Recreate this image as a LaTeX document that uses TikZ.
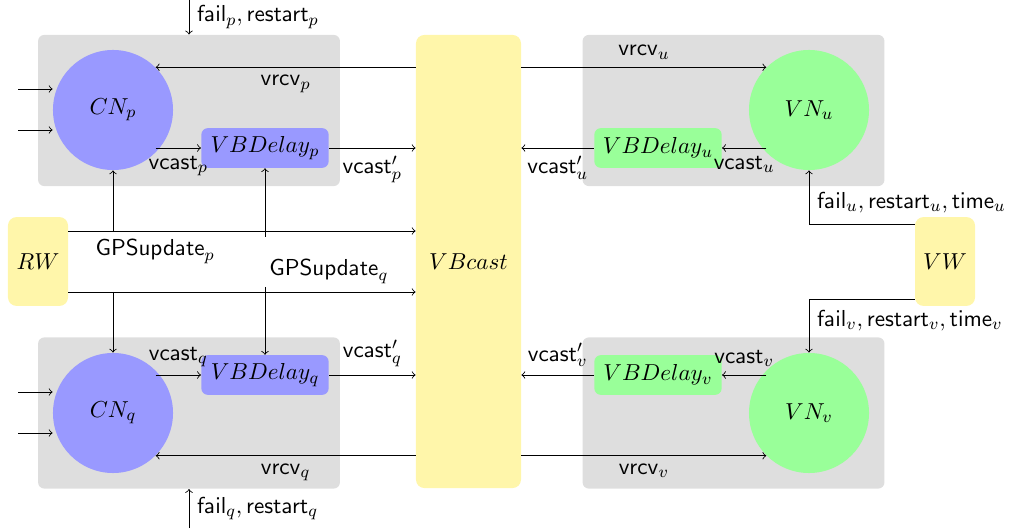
\documentclass[tikz,border=0pt,11pt]{standalone}
\usepackage{amssymb}
\usetikzlibrary{calc}
\usetikzlibrary{positioning}
\definecolor{lgray}{RGB}{222,222,222}
\definecolor{cblue}{RGB}{153,153,255}
\definecolor{vgreen}{RGB}{153,255,153}
\definecolor{wyellow}{RGB}{255,246,170}

\begin{document}
\begin{tikzpicture}[x=0.016667cm,y=-0.016667cm,
  grp/.style={rectangle,rounded corners=3pt,fill=lgray,minimum width=5.03cm,minimum height=2.52cm},
  cn/.style={circle,fill=cblue,minimum size=2cm,inner sep=0pt},
  vn/.style={circle,fill=vgreen,minimum size=2cm,inner sep=0pt},
  dly/.style={rectangle,rounded corners=3pt,minimum width=2.12cm,minimum height=0.66cm,fill=#1},
  wld/.style={rectangle,rounded corners=4pt,fill=wyellow}]

\useasboundingbox (0,0) rectangle (1009,531);

% grey groups
\node[grp] (gp) at (189,110.5) {};
\node[grp] (gq) at (189,413) {};
\node[grp] (gu) at (733.5,110.5) {};
\node[grp] (gv) at (733.5,413) {};

\node[cn] (CNp) at (113,110) {$CN_p$};
\node[cn] (CNq) at (113,413) {$CN_q$};
\node[vn] (VNu) at (809,110) {$VN_u$};
\node[vn] (VNv) at (809,413) {$VN_v$};

\node[dly=cblue] (Dp) at (265,148) {$VBDelay_p$};
\node[dly=cblue] (Dq) at (265,375) {$VBDelay_q$};
\node[dly=vgreen] (Du) at (658,148) {$VBDelay_u$};
\node[dly=vgreen] (Dv) at (658,375) {$VBDelay_v$};

\node[wld,minimum width=1.75cm,minimum height=7.55cm] (VB) at (468.5,261.5) {$VBcast$};
\node[wld,minimum width=1cm,minimum height=1.48cm] (RW) at (38,261.5) {$RW$};
\node[wld,minimum width=1cm,minimum height=1.48cm] (VW) at (945,261.5) {$VW$};

% inputs on the left
\foreach \y [count=\i] in {89,130} {
  \coordinate (inp\i) at (18,\y);
  \draw[->] (inp\i) -- (CNp.west |- inp\i);
}
\foreach \y [count=\i] in {392,433} {
  \coordinate (inq\i) at (18,\y);
  \draw[->] (inq\i) -- (CNq.west |- inq\i);
}

\coordinate (fp) at (189,0);
\coordinate (fq) at (189,528);
\draw[->] (fp) -- (fp |- gp.north) node[midway,right] {$\mathsf{fail}_p, \mathsf{restart}_p$};
\draw[->] (fq) -- (fq |- gq.south) node[midway,right] {$\mathsf{fail}_q, \mathsf{restart}_q$};

% p side
\draw[->] (VB.west |- CNp.45) -- (CNp.45) node[midway,below] {$\mathsf{vrcv}_p$};
\draw[->] (CNp.south east |- Dp.west) -- (Dp.west) node[midway,below] {$\mathsf{vcast}_p$};
\draw[->] (Dp.east) -- (VB.west |- Dp.east) node[midway,below] {$\mathsf{vcast}'_p$};

% q side
\draw[->] (VB.west |- CNq.-45) -- (CNq.-45) node[midway,below] {$\mathsf{vrcv}_q$};
\draw[->] (CNq.north east |- Dq.west) -- (Dq.west) node[midway,above] {$\mathsf{vcast}_q$};
\draw[->] (Dq.east) -- (VB.west |- Dq.east) node[midway,above] {$\mathsf{vcast}'_q$};

% RW
\draw[->] (RW.east |- 0,231) -- (VB.west |- 0,231) node[pos=0.25,below] {$\mathsf{GPSupdate}_p$};
\draw[->] (RW.east |- 0,292) -- (VB.west |- 0,292) node[pos=0.75,above] {$\mathsf{GPSupdate}_q$};
\draw[->] (CNp.south |- 0,231) -- (CNp.south);
\draw[->] (CNq.north |- 0,292) -- (CNq.north);
\coordinate (gup) at (265,237);
\coordinate (gdn) at (265,287);
\draw[->] (gup) -- (Dp.south);
\draw[->] (gdn) -- (Dq.north);

% u side
\draw[->] (VB.east |- VNu.135) -- (VNu.135) node[midway,above] {$\mathsf{vrcv}_u$};
\draw[->] (VNu.south west |- Du.east) -- (Du.east) node[midway,below] {$\mathsf{vcast}_u$};
\draw[->] (Du.west) -- (VB.east |- Du.west) node[midway,below] {$\mathsf{vcast}'_u$};

% v side
\draw[->] (VB.east |- VNv.-135) -- (VNv.-135) node[midway,below] {$\mathsf{vrcv}_v$};
\draw[->] (VNv.north west |- Dv.east) -- (Dv.east) node[midway,above] {$\mathsf{vcast}_v$};
\draw[->] (Dv.west) -- (VB.east |- Dv.west) node[midway,above] {$\mathsf{vcast}'_v$};

% VW
\draw[->] (VW.west |- 0,224) -| (VNu.south) node[pos=0.7,right] {$\mathsf{fail}_u, \mathsf{restart}_u, \mathsf{time}_u$};
\draw[->] (VW.west |- 0,299) -| (VNv.north) node[pos=0.7,right] {$\mathsf{fail}_v, \mathsf{restart}_v, \mathsf{time}_v$};
\end{tikzpicture}
\end{document}
